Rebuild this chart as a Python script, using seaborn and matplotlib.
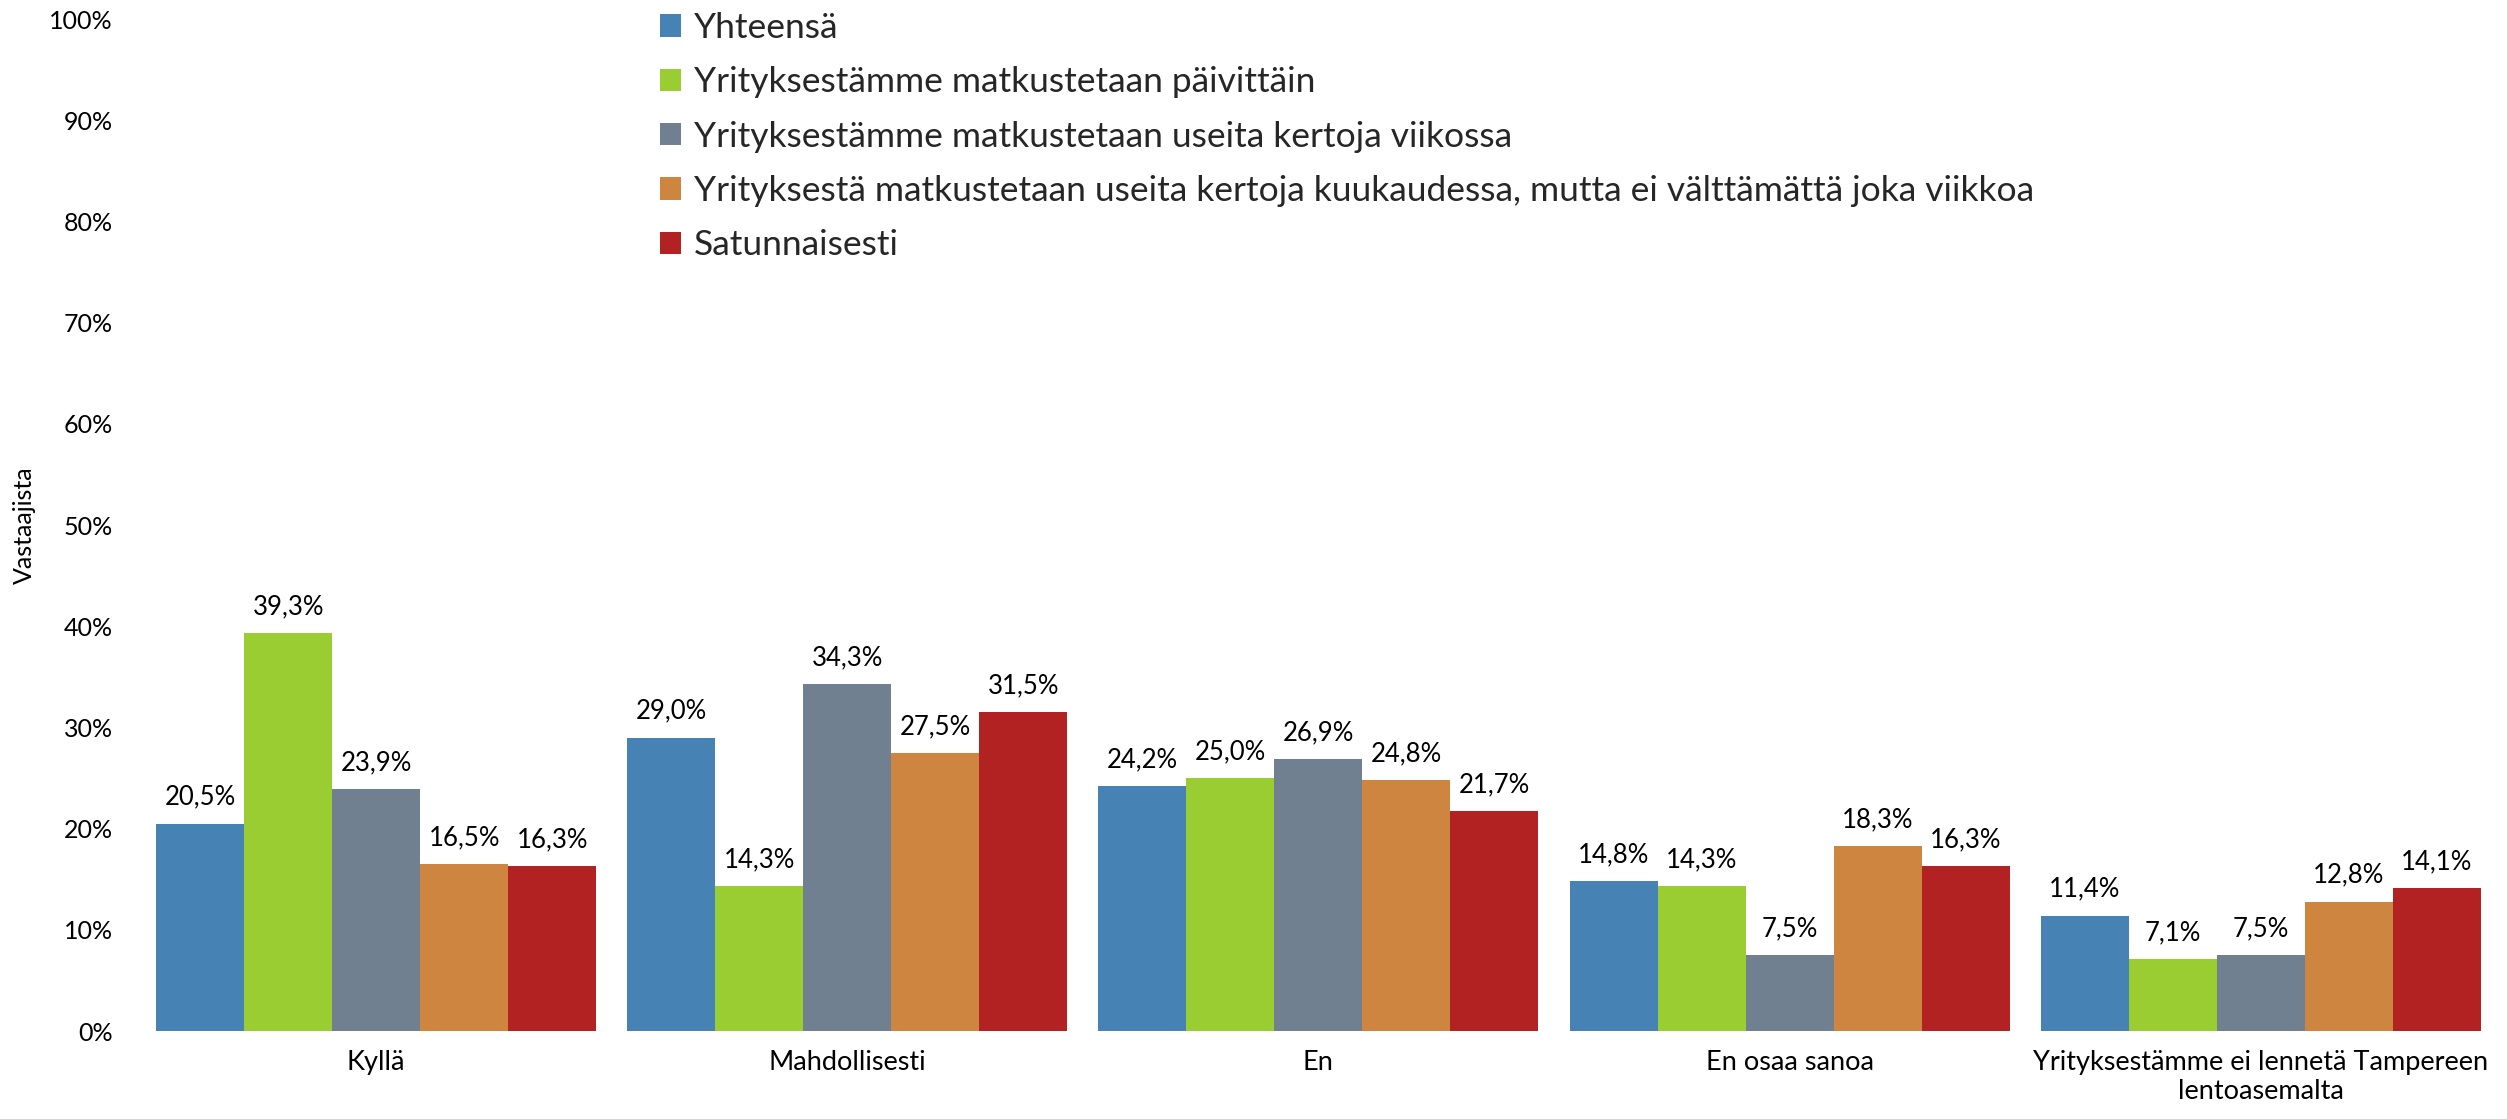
import matplotlib
matplotlib.use("Agg")
import matplotlib.pyplot as plt
import seaborn as sns
import pandas as pd
from matplotlib.ticker import FuncFormatter

categories = ["Kyllä", "Mahdollisesti", "En", "En osaa sanoa",
              "Yrityksestämme ei lennetä Tampereen\nlentoasemalta"]
series = ["Yhteensä",
          "Yrityksestämme matkustetaan päivittäin",
          "Yrityksestämme matkustetaan useita kertoja viikossa",
          "Yrityksestä matkustetaan useita kertoja kuukaudessa, mutta ei välttämättä joka viikkoa",
          "Satunnaisesti"]
yhteensa = [20.5, 29.0, 24.2, 14.8, 11.4]
paivittain = [39.3, 14.3, 25.0, 14.3, 7.1]
viikossa = [23.9, 34.3, 26.9, 7.5, 7.5]
kuukaudessa = [16.5, 27.5, 24.8, 18.3, 12.8]
satunnaisesti = [16.3, 31.5, 21.7, 16.3, 14.1]
colors = ["#4682B4", "#9ACD32", "#708090", "#CD853F", "#B22222"]

values = [yhteensa, paivittain, viikossa, kuukaudessa, satunnaisesti]
rows = []
for s, vals in zip(series, values):
    for c, v in zip(categories, vals):
        rows.append({"cat": c, "series": s, "val": v})
df = pd.DataFrame(rows)

sns.set_theme(style="white")
plt.rcParams['font.family'] = ['Lato', 'DejaVu Sans']

fig = plt.figure(figsize=(25.07, 11.19), dpi=100)
ax = fig.add_axes([0.0561, 0.0786, 0.9396, 0.9044])

sns.barplot(data=df, x="cat", y="val", hue="series", order=categories,
            hue_order=series, palette=colors, saturation=1, width=0.934,
            gap=0, ax=ax, edgecolor="none", linewidth=0, errorbar=None)

for cont in ax.containers:
    labels = [f"{b.get_height():.1f}%".replace(".", ",") for b in cont]
    ax.bar_label(cont, labels=labels, padding=10, fontsize=18.5, color="black")

ax.set_ylim(0, 100)
ax.set_xlim(-0.5, 4.5)
ax.set_yticks(range(0, 101, 10))
ax.yaxis.set_major_formatter(FuncFormatter(lambda v, p: f"{int(v)}%"))
ax.tick_params(axis="y", length=0, pad=20, labelsize=18, labelcolor="black")
ax.tick_params(axis="x", length=0, pad=14, labelsize=19.5, labelcolor="black")
ax.set_xlabel("")
ax.set_ylabel("Vastaajista", fontsize=18, color="black")
ax.yaxis.set_label_coords(-0.0444, 0.5)
for sp in ax.spines.values():
    sp.set_visible(False)
ax.grid(False)

leg = ax.legend(loc="upper left", bbox_to_anchor=(660 / 2507, 1 - 12 / 1119),
                bbox_transform=fig.transFigure, frameon=False, fontsize=25.5,
                handlelength=0.6, handleheight=0.6, handletextpad=0.35,
                labelspacing=0.63, borderaxespad=0, borderpad=0)

fig.savefig("out.png", dpi=100)
